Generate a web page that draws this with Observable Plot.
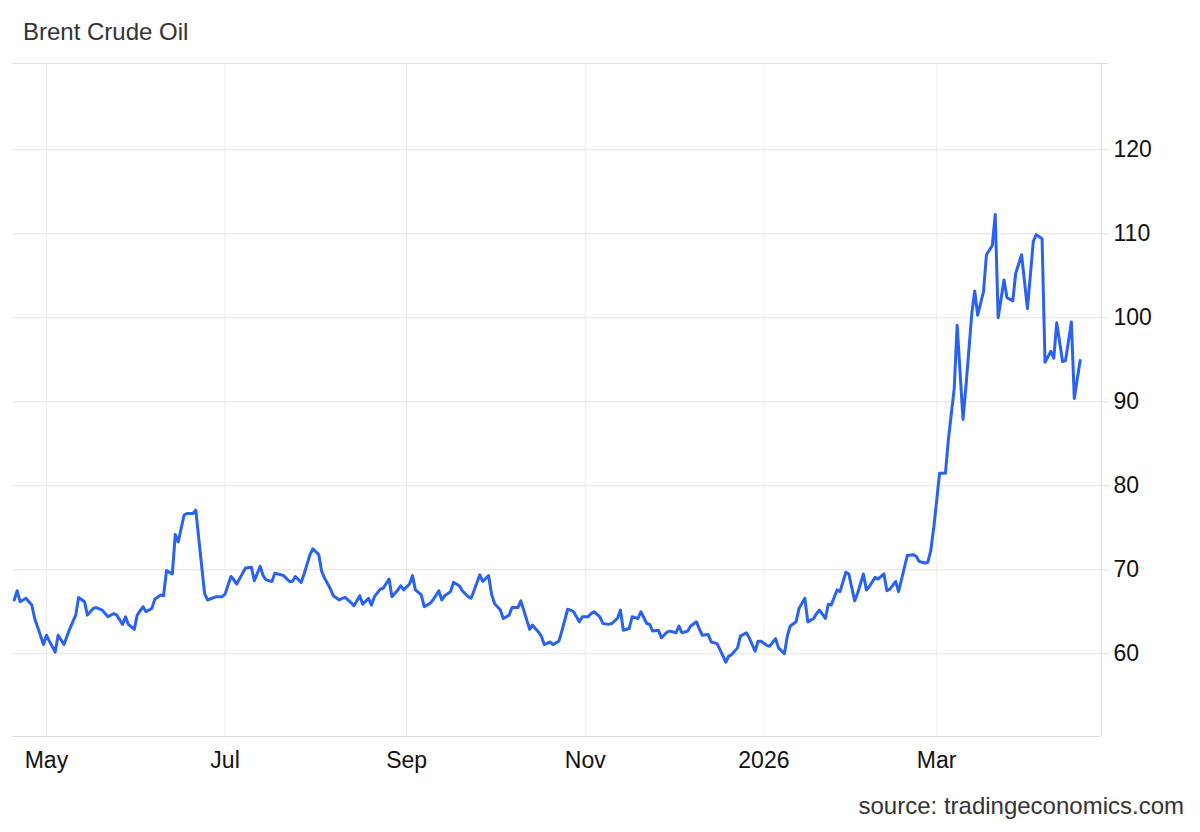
<!DOCTYPE html>
<html><head><meta charset="utf-8">
<script src="https://cdn.jsdelivr.net/npm/d3@7"></script>
<script src="https://cdn.jsdelivr.net/npm/@observablehq/plot@0.6"></script>
<style>
html,body{margin:0;padding:0;background:#fff;}
#wrap{position:relative;width:1200px;height:832px;font-family:"Liberation Sans",Arial,Helvetica,sans-serif;}
#title{position:absolute;left:23px;top:18px;font-size:24px;color:#333;line-height:28px;white-space:nowrap;}
#chart{position:absolute;left:0;top:55px;}
#source{position:absolute;right:16px;top:792px;font-size:24px;color:#333;line-height:28px;white-space:nowrap;}
</style></head><body>
<div id="wrap"><div id="title">Brent Crude Oil</div><div id="chart"></div><div id="source">source: tradingeconomics.com</div></div>
<script>
const dates = [
"2025-04-20","2025-04-21","2025-04-22","2025-04-24","2025-04-26","2025-04-27","2025-04-30",
"2025-05-01","2025-05-02","2025-05-04","2025-05-05","2025-05-07","2025-05-09","2025-05-11","2025-05-12","2025-05-14","2025-05-15","2025-05-17","2025-05-18","2025-05-20","2025-05-22","2025-05-24","2025-05-25","2025-05-27","2025-05-28","2025-05-29","2025-05-31",
"2025-06-01","2025-06-03","2025-06-04","2025-06-06","2025-06-07","2025-06-09","2025-06-10","2025-06-11","2025-06-13","2025-06-14","2025-06-15","2025-06-17","2025-06-18","2025-06-20","2025-06-21","2025-06-24","2025-06-25","2025-06-28","2025-06-30",
"2025-07-01","2025-07-03","2025-07-04","2025-07-05","2025-07-07","2025-07-08","2025-07-10","2025-07-11","2025-07-13","2025-07-14","2025-07-15","2025-07-17","2025-07-18","2025-07-20","2025-07-21","2025-07-23","2025-07-24","2025-07-25","2025-07-27","2025-07-28","2025-07-30","2025-07-31",
"2025-08-02","2025-08-03","2025-08-04","2025-08-06","2025-08-07","2025-08-09","2025-08-10","2025-08-11","2025-08-13","2025-08-14","2025-08-16","2025-08-17","2025-08-19","2025-08-20","2025-08-21","2025-08-23","2025-08-24","2025-08-26","2025-08-27","2025-08-29","2025-08-30","2025-08-31",
"2025-09-02","2025-09-03","2025-09-04","2025-09-06","2025-09-07","2025-09-09","2025-09-10","2025-09-12","2025-09-13","2025-09-14","2025-09-16","2025-09-17","2025-09-19","2025-09-20","2025-09-22","2025-09-23","2025-09-24","2025-09-26","2025-09-27","2025-09-29","2025-09-30",
"2025-10-01","2025-10-03","2025-10-04","2025-10-06","2025-10-07","2025-10-09","2025-10-10","2025-10-11","2025-10-13","2025-10-14","2025-10-16","2025-10-17","2025-10-18","2025-10-20","2025-10-21","2025-10-23","2025-10-24","2025-10-26","2025-10-27","2025-10-28","2025-10-30","2025-10-31",
"2025-11-02","2025-11-03","2025-11-04","2025-11-06","2025-11-07","2025-11-09","2025-11-10","2025-11-12","2025-11-13","2025-11-14","2025-11-16","2025-11-17","2025-11-19","2025-11-20","2025-11-22","2025-11-23","2025-11-24","2025-11-26","2025-11-27","2025-11-29","2025-11-30",
"2025-12-02","2025-12-03","2025-12-04","2025-12-06","2025-12-07","2025-12-09","2025-12-10","2025-12-11","2025-12-13","2025-12-14","2025-12-16","2025-12-17","2025-12-19","2025-12-20","2025-12-21","2025-12-23","2025-12-24","2025-12-26","2025-12-27","2025-12-29","2025-12-30","2025-12-31",
"2026-01-02","2026-01-03","2026-01-05","2026-01-06","2026-01-08","2026-01-09","2026-01-10","2026-01-12","2026-01-13","2026-01-15","2026-01-16","2026-01-18","2026-01-19","2026-01-20","2026-01-22","2026-01-23","2026-01-24","2026-01-26","2026-01-27","2026-01-29","2026-01-30",
"2026-02-01","2026-02-02","2026-02-04","2026-02-05","2026-02-06","2026-02-08","2026-02-09","2026-02-11","2026-02-12","2026-02-13","2026-02-15","2026-02-16","2026-02-18","2026-02-19","2026-02-21","2026-02-22","2026-02-23","2026-02-25","2026-02-26","2026-02-27","2026-02-28",
"2026-03-01","2026-03-02","2026-03-04","2026-03-05","2026-03-07","2026-03-08","2026-03-10","2026-03-11","2026-03-13","2026-03-14","2026-03-15","2026-03-17","2026-03-18","2026-03-20","2026-03-21","2026-03-22","2026-03-24","2026-03-25","2026-03-27","2026-03-28","2026-03-30","2026-03-31",
"2026-04-01","2026-04-03","2026-04-04","2026-04-06","2026-04-07","2026-04-09","2026-04-10","2026-04-11","2026-04-13","2026-04-14","2026-04-16","2026-04-17","2026-04-19"
];
const prices = [
66.4,67.5,66.2,66.6,65.8,64.2,61.1,
62.2,61.5,60.2,62.2,61.1,63.0,64.6,66.7,66.2,64.6,65.4,65.5,65.2,64.4,64.8,64.6,63.5,64.4,63.5,62.9,
64.6,65.6,65.0,65.4,66.5,67.0,66.9,69.9,69.5,74.2,73.3,76.5,76.7,76.7,77.1,67.2,66.4,66.8,66.8,
67.1,69.2,68.8,68.3,69.6,70.2,70.3,68.7,70.4,69.3,68.8,68.6,69.6,69.4,69.3,68.6,68.6,69.2,68.5,69.5,71.8,72.5,
71.8,69.8,69.0,67.7,66.9,66.4,66.6,66.7,66.1,65.7,66.9,65.9,66.6,65.8,66.8,67.7,67.8,68.9,66.8,67.6,68.1,67.6,
68.3,69.3,67.6,67.0,65.6,66.0,66.4,67.5,66.4,66.9,67.4,68.5,68.1,67.5,66.8,66.6,67.5,69.4,68.6,69.3,67.1,
66.0,65.2,64.2,64.6,65.5,65.5,66.3,65.2,62.9,63.4,62.6,62.1,61.1,61.4,61.1,61.5,62.7,65.3,65.2,65.0,63.8,64.4,
64.4,64.8,65.0,64.4,63.6,63.5,63.6,64.2,65.2,62.8,63.0,64.4,64.2,65.0,63.6,63.5,62.7,62.8,61.9,62.6,62.7,
62.5,63.3,62.5,62.7,63.3,63.8,62.9,62.2,62.3,61.4,61.2,60.5,59.0,59.7,59.9,60.7,62.1,62.5,61.9,60.3,61.5,61.5,
61.0,60.9,61.8,60.7,60.0,62.1,63.3,63.8,65.4,66.6,63.8,64.2,64.8,65.2,64.2,65.9,65.8,67.6,67.4,69.7,69.5,
66.3,67.2,69.5,67.6,68.0,69.1,68.9,69.5,67.5,67.7,68.6,67.4,70.3,71.7,71.8,71.6,71.0,70.8,70.9,72.3,75.0,
78.2,81.5,81.5,85.5,91.6,99.1,87.9,91.8,100.5,103.2,100.3,103.1,107.5,108.6,112.3,100.0,104.5,102.4,102.0,105.3,107.5,104.3,
101.1,109.1,109.9,109.4,94.7,96.0,95.2,99.4,94.8,94.9,99.5,90.4,94.9
];
const xDomainStrings = ["2025-04-19T10:00:00Z", "2026-04-26T07:00:00Z"];
const xTickStrings = ["2025-05-01","2025-07-01","2025-09-01","2025-11-01","2026-01-01","2026-03-01"];
const xTickLabels = ["May","Jul","Sep","Nov","2026","Mar"];
const yTickValues = [60,70,80,90,100,110,120];
const yDomain = [50.15,130.27];

const data = dates.map((d, i) => ({date: new Date(d), price: prices[i]}));
const xDomain = xDomainStrings.map(s => new Date(s));
const xTicks = xTickStrings.map(s => new Date(s));
const xLabel = d => { const i = xTicks.findIndex(t => +t === +d); return i >= 0 ? xTickLabels[i] : ""; };

const chart = Plot.plot({
  width: 1200,
  height: 731,
  marginTop: 8,
  marginBottom: 50,
  marginLeft: 12,
  marginRight: 99,
  style: {fontFamily: '"Liberation Sans", Arial, Helvetica, sans-serif', fontSize: "23px", background: "#fff"},
  x: {type: "utc", domain: xDomain},
  y: {domain: yDomain},
  marks: [
    Plot.gridX(xTicks, {stroke: "#eeeeee", strokeOpacity: 1}),
    Plot.gridY(yTickValues, {stroke: "#e3e3e3", strokeOpacity: 1}),
    Plot.ruleY([yDomain[1]], {stroke: "#e3e3e3"}),
    Plot.ruleY([yDomain[0]], {stroke: "#dddddd"}),
    Plot.ruleX([xDomain[1]], {stroke: "#dddddd"}),
    Plot.axisX({ticks: xTicks, tickFormat: xLabel, tickSize: 0, tickPadding: 15, fill: "#111", label: null}),
    Plot.axisY({anchor: "right", ticks: [yDomain[1]], tickFormat: () => "", tickSize: 7, stroke: "#dddddd", label: null}),
    Plot.axisY({anchor: "right", ticks: yTickValues, tickSize: 7, tickPadding: 5, stroke: "#dddddd", fill: "#111", textAnchor: "start", label: null}),
    Plot.lineY(data, {x: "date", y: "price", stroke: "#2962f0", strokeWidth: 3, strokeLinejoin: "round"})
  ]
});
document.getElementById("chart").appendChild(chart);
</script>
</body></html>
